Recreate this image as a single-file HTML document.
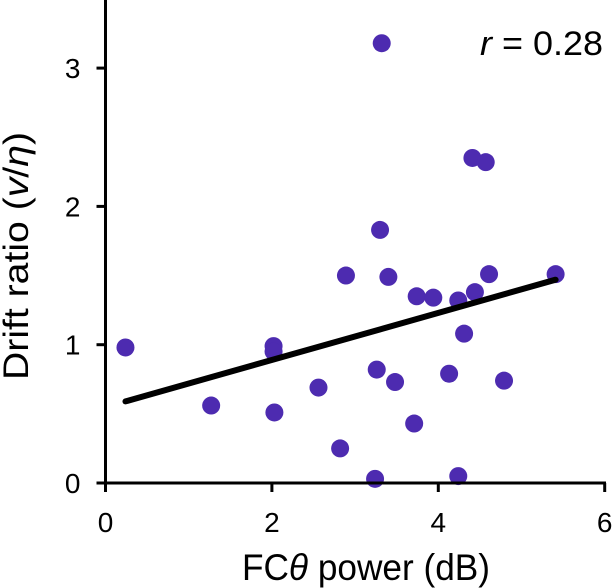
<!DOCTYPE html>
<html><head><meta charset="utf-8"><style>
html,body{margin:0;padding:0;background:#fff;}
svg{display:block;font-family:"Liberation Sans",Arial,sans-serif;}
</style></head><body>
<svg id="chart" width="614" height="588" viewBox="0 0 614 588">
<g id="marks"></g>
<g id="axes"></g>
<text x="480" y="55" font-size="34" textLength="123" lengthAdjust="spacingAndGlyphs"><tspan font-style="italic">r</tspan> = 0.28</text>
<text x="242" y="580" font-size="37" textLength="248" lengthAdjust="spacingAndGlyphs">FC<tspan font-style="italic">θ</tspan> power (dB)</text>
<text transform="translate(28,380) rotate(-90)" font-size="35" textLength="248" lengthAdjust="spacingAndGlyphs">Drift ratio (<tspan font-style="italic">v</tspan>/<tspan font-style="italic">η</tspan>)</text>
</svg>
<script>
const xValues=[0.24,1.27,2.02,2.02,2.03,2.56,2.89,2.82,3.32,3.30,3.26,3.24,3.40,3.48,3.74,3.71,3.94,4.13,4.24,4.44,4.31,4.24,4.41,4.57,4.61,4.79,5.41];
const yValues=[0.98,0.56,0.99,0.95,0.51,0.69,1.50,0.25,3.18,1.83,0.82,0.03,1.49,0.73,1.35,0.43,1.34,0.79,1.32,1.38,1.08,0.05,2.35,2.32,1.51,0.74,1.51];
const xTicks=[0,2,4,6];
const yTicks=[0,1,2,3];
const fitX=[0.24,5.41];
const fitY=[0.59,1.47];
const NS="http://www.w3.org/2000/svg";
const X0=105.5,Y0=483,XS=83.2,YS=138.3;
const sx=v=>X0+v*XS, sy=v=>Y0-v*YS;
const marks=document.getElementById('marks'), axes=document.getElementById('axes');
function mk(tag,attrs,parent){const e=document.createElementNS(NS,tag);for(const k in attrs)e.setAttribute(k,attrs[k]);parent.appendChild(e);return e;}
xValues.forEach((x,i)=>{
  const c=mk('circle',{cx:sx(x),cy:sy(yValues[i]),r:9,fill:'#4d2bb0'},marks);
  
  
});
const fl=mk('line',{x1:sx(fitX[0]),y1:sy(fitY[0]),x2:sx(fitX[1]),y2:sy(fitY[1]),stroke:'#000','stroke-width':6,'stroke-linecap':'round'},marks);


const ya=mk('line',{x1:X0,y1:0,x2:X0,y2:Y0+1.5,stroke:'#000','stroke-width':3},axes);


const xa=mk('line',{x1:X0-1.5,y1:Y0,x2:606,y2:Y0,stroke:'#000','stroke-width':3},axes);


xTicks.forEach(t=>{
  const l=mk('line',{x1:sx(t),y1:Y0,x2:sx(t),y2:Y0+9,stroke:'#000','stroke-width':3},axes);
  
  
  const tx=mk('text',{x:sx(t),y:Y0+49,'font-size':28,'text-anchor':'middle'},axes);
  tx.textContent=t;
  
  
});
yTicks.forEach(t=>{
  const l=mk('line',{x1:X0-9,y1:sy(t),x2:X0,y2:sy(t),stroke:'#000','stroke-width':3},axes);
  
  
  const tx=mk('text',{x:X0-25,y:sy(t)+10,'font-size':28,'text-anchor':'end'},axes);
  tx.textContent=t;
  
  
});
</script>
</body></html>
